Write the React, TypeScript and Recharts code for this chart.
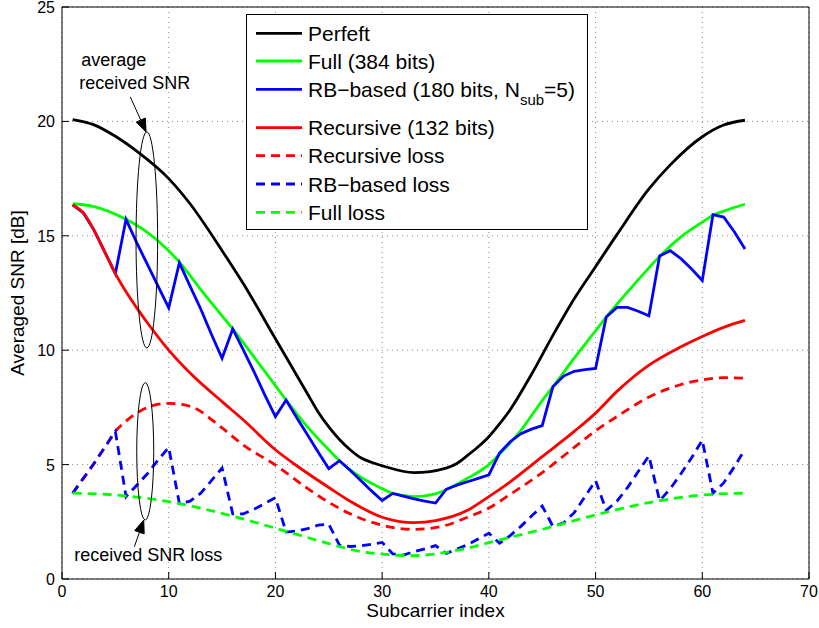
import React from "react";
import {
  CartesianGrid,
  Label,
  Legend,
  Line,
  LineChart,
  ReferenceDot,
  ReferenceLine,
  XAxis,
  YAxis,
} from "recharts";

const FONT = '"Liberation Sans", Arial, Helvetica, sans-serif';

// tick labels
const xTicks = [0, 10, 20, 30, 40, 50, 60, 70];
const yTicks = [0, 5, 10, 15, 20, 25];

// every subcarrier (used by the zig-zag RB series)
const subcarriers = Array.from({ length: 64 }, (_, i) => i + 1);

// smooth curves at a few subcarriers
const perfectIdx = [1, 3, 5, 7, 10, 12, 15, 17, 20, 23, 24, 25, 26, 27, 28, 29, 30, 33, 36, 37, 38, 39, 40, 41, 42, 44, 46, 48, 50, 52, 55, 57, 60, 62, 64];
const perfectSnr = [20.08, 19.85, 19.35, 18.7, 17.5, 16.4, 14.35, 12.9, 10.5, 8.1, 7.3, 6.65, 6.1, 5.65, 5.3, 5.1, 4.95, 4.65, 4.85, 5.05, 5.4, 5.78, 6.22, 6.78, 7.4, 8.95, 10.65, 12.25, 13.65, 15.05, 17.05, 18.1, 19.33, 19.84, 20.05];

const fullIdx = [1, 3, 6, 8, 10, 11, 13, 15, 16, 18, 20, 21, 23, 25, 26, 28, 30, 31, 33, 35, 36, 38, 40, 41, 43, 45, 46, 48, 50, 51, 53, 55, 56, 58, 60, 61, 62, 64];
const fullSnr = [16.4, 16.28, 15.72, 15.15, 14.35, 13.85, 12.65, 11.5, 10.93, 9.7, 8.45, 7.82, 6.65, 5.65, 5.17, 4.45, 3.95, 3.74, 3.6, 3.72, 3.9, 4.4, 5.0, 5.45, 6.5, 7.8, 8.4, 9.65, 10.85, 11.45, 12.55, 13.6, 14.1, 14.95, 15.6, 15.9, 16.08, 16.38];

const recIdx = [1, 2, 3, 4, 5, 6, 7, 8, 10, 12, 15, 17, 20, 22, 25, 27, 30, 33, 35, 38, 40, 42, 45, 48, 50, 52, 55, 58, 60, 62, 64];
const recSnr = [16.35, 16.0, 15.25, 14.3, 13.35, 12.55, 11.85, 11.2, 10.0, 9.0, 7.75, 6.95, 5.65, 4.95, 4.0, 3.4, 2.7, 2.46, 2.55, 3.0, 3.6, 4.25, 5.35, 6.45, 7.25, 8.2, 9.35, 10.15, 10.6, 11.0, 11.3];

const recLossIdx = [1, 2, 3, 4, 5, 6, 7, 8, 10, 12, 15, 17, 20, 23, 25, 27, 30, 33, 36, 38, 40, 42, 45, 48, 50, 52, 55, 58, 60, 62, 64];
const recLossSnr = [3.75, 4.4, 5.05, 5.75, 6.45, 6.9, 7.25, 7.5, 7.68, 7.55, 6.6, 5.85, 4.98, 3.96, 3.35, 2.85, 2.35, 2.17, 2.35, 2.7, 3.1, 3.7, 4.65, 5.75, 6.48, 7.1, 7.95, 8.5, 8.7, 8.8, 8.78];

const fullLossIdx = [1, 5, 10, 15, 20, 22, 25, 28, 30, 33, 35, 38, 40, 45, 50, 55, 60, 64];
const fullLossSnr = [3.75, 3.67, 3.38, 2.87, 2.22, 1.95, 1.55, 1.2, 1.09, 1.02, 1.1, 1.35, 1.59, 2.17, 2.8, 3.34, 3.67, 3.75];

// RB-based (N_sub = 5): one value per subcarrier
const rbSnr = [
  16.35, 16.0, 15.25, 14.3, 13.35,
  15.72, 14.7, 13.75, 12.8, 11.85,
  13.82, 12.8, 11.8, 10.7, 9.65,
  10.93, 10.0, 9.05, 8.05, 7.1,
  7.82, 7.05, 6.3, 5.55, 4.82,
  5.17, 4.75, 4.3, 3.85, 3.43,
  3.74, 3.62, 3.5, 3.4, 3.32,
  3.92, 4.1, 4.25, 4.4, 4.55,
  5.5, 6.0, 6.35, 6.55, 6.7,
  8.4, 8.87, 9.08, 9.15, 9.2,
  11.45, 11.87, 11.87, 11.7, 11.5,
  14.12, 14.35, 14.0, 13.55, 13.05,
  15.92, 15.82, 15.18, 14.42,
];

const rbLossSnr = [
  3.75, 4.4, 5.05, 5.75, 6.45,
  3.6, 4.1, 4.6, 5.2, 5.75,
  3.3, 3.4, 3.75, 4.3, 4.85,
  2.85, 2.85, 3.05, 3.3, 3.55,
  2.05, 2.1, 2.2, 2.35, 2.4,
  1.48, 1.42, 1.45, 1.52, 1.6,
  1.1, 1.05, 1.2, 1.32, 1.46,
  1.12, 1.3, 1.5, 1.75, 2.0,
  1.56, 1.9, 2.3, 2.75, 3.19,
  2.3, 2.45, 2.9, 3.6, 4.3,
  3.0, 3.4, 4.0, 4.7, 5.38,
  3.42, 3.95, 4.6, 5.3, 6.07,
  3.75, 4.2, 4.9, 5.67,
];

const toPoints = (xs: number[], ys: number[]) => xs.map((x, i) => ({ x, y: ys[i] }));

type Series = {
  key: string;
  name: string;
  color: string;
  dashed: boolean;
  curve: "monotone" | "linear";
  data: { x: number; y: number }[];
};

// plotting order = legend order
const series: Series[] = [
  { key: "perfect", name: "Perfeft", color: "#000000", dashed: false, curve: "monotone", data: toPoints(perfectIdx, perfectSnr) },
  { key: "full", name: "Full (384 bits)", color: "#00ff00", dashed: false, curve: "monotone", data: toPoints(fullIdx, fullSnr) },
  { key: "rb", name: "RB−based (180 bits, N_sub=5)", color: "#0000ff", dashed: false, curve: "linear", data: toPoints(subcarriers, rbSnr) },
  { key: "rec", name: "Recursive (132 bits)", color: "#ff0000", dashed: false, curve: "monotone", data: toPoints(recIdx, recSnr) },
  { key: "recLoss", name: "Recursive loss", color: "#ff0000", dashed: true, curve: "monotone", data: toPoints(recLossIdx, recLossSnr) },
  { key: "rbLoss", name: "RB−based loss", color: "#0000ff", dashed: true, curve: "linear", data: toPoints(subcarriers, rbLossSnr) },
  { key: "fullLoss", name: "Full loss", color: "#00ff00", dashed: true, curve: "monotone", data: toPoints(fullLossIdx, fullLossSnr) },
];

const TICK_LEN = 7;
const TICK_FONT = 16;

function BottomTick({ x, y, payload }: any) {
  return (
    <g>
      <line x1={x} x2={x} y1={y} y2={y - TICK_LEN} stroke="#000" />
      <text x={x} y={y + 18} textAnchor="middle" fontSize={TICK_FONT} fontFamily={FONT} fill="#000">
        {payload.value}
      </text>
    </g>
  );
}

function LeftTick({ x, y, payload }: any) {
  return (
    <g>
      <line x1={x} x2={x + TICK_LEN} y1={y} y2={y} stroke="#000" />
      <text x={x - 7} y={y + 6} textAnchor="end" fontSize={TICK_FONT} fontFamily={FONT} fill="#000">
        {payload.value}
      </text>
    </g>
  );
}

function TopTick({ x, y }: any) {
  return <line x1={x} x2={x} y1={y} y2={y + TICK_LEN} stroke="#000" />;
}

function RightTick({ x, y }: any) {
  return <line x1={x} x2={x - TICK_LEN} y1={y} y2={y} stroke="#000" />;
}

function LegendBox() {
  const rows = [19.3, 47, 75.3, 113.7, 141.7, 170, 198.3];
  return (
    <svg width={343} height={217} style={{ display: "block" }}>
      <rect x={0.5} y={0.5} width={341} height={215} fill="#fff" stroke="#000" />
      {series.map((s, i) => {
        const cy = rows[i];
        return (
          <g key={s.key}>
            <line
              x1={10}
              x2={56}
              y1={cy}
              y2={cy}
              stroke={s.color}
              strokeWidth={2.8}
              strokeDasharray={s.dashed ? "9 6" : undefined}
            />
            <text x={62} y={cy + 7.5} fontSize={21} fontFamily={FONT} fill="#000">
              {s.key === "rb" ? (
                <>
                  {"RB−based (180 bits, N"}
                  <tspan fontSize={15} dy={8}>sub</tspan>
                  <tspan dy={-8}>=5)</tspan>
                </>
              ) : (
                s.name
              )}
            </text>
          </g>
        );
      })}
    </svg>
  );
}

function Arrow({ x1, y1, x2, y2 }: any) {
  const dx = x2 - x1;
  const dy = y2 - y1;
  const len = Math.hypot(dx, dy) || 1;
  const ux = dx / len;
  const uy = dy / len;
  const head = 13;
  const half = 5;
  const bx = x2 - ux * head;
  const by = y2 - uy * head;
  const pts = `${x2},${y2} ${bx - uy * half},${by + ux * half} ${bx + uy * half},${by - ux * half}`;
  return (
    <g>
      <line x1={x1} y1={y1} x2={bx} y2={by} stroke="#000" strokeWidth={1} />
      <polygon points={pts} fill="#000" stroke="#000" strokeWidth={1} />
    </g>
  );
}

function note(text: string) {
  return ({ cx, cy }: any) => (
    <text x={cx} y={cy} fontSize={18} fontFamily={FONT} fill="#000">
      {text}
    </text>
  );
}

function ellipse(rx: number, ry: number) {
  return ({ cx, cy }: any) => (
    <ellipse cx={cx} cy={cy} rx={rx} ry={ry} fill="none" stroke="#000" strokeWidth={1} />
  );
}

export default function App() {
  return (
    <div style={{ position: "absolute", left: 0, top: 0, width: 819, height: 628, background: "#fff" }}>
      <LineChart width={819} height={628} margin={{ top: 0, right: 0, bottom: 0, left: 0 }}>
        <CartesianGrid stroke="#8c8c8c" strokeDasharray="1 4" />
        <XAxis
          dataKey="x"
          type="number"
          domain={[0, 70]}
          ticks={xTicks}
          interval={0}
          height={49}
          tickSize={0}
          tickMargin={0}
          tick={<BottomTick />}
          axisLine={{ stroke: "#000" }}
          allowDuplicatedCategory={false}
        >
          <Label
            content={({ viewBox }: any) => (
              <text
                x={viewBox.x + viewBox.width / 2}
                y={viewBox.y + 38}
                textAnchor="middle"
                fontSize={19}
                fontFamily={FONT}
                fill="#000"
              >
                Subcarrier index
              </text>
            )}
          />
        </XAxis>
        <XAxis
          xAxisId="top"
          orientation="top"
          dataKey="x"
          type="number"
          domain={[0, 70]}
          ticks={xTicks}
          interval={0}
          height={7}
          tickSize={0}
          tickMargin={0}
          tick={<TopTick />}
          axisLine={{ stroke: "#000" }}
        />
        <YAxis
          type="number"
          domain={[0, 25]}
          ticks={yTicks}
          interval={0}
          width={62}
          tickSize={0}
          tickMargin={0}
          tick={<LeftTick />}
          axisLine={{ stroke: "#000" }}
        >
          <Label
            content={({ viewBox }: any) => {
              const cx = viewBox.x + 24;
              const cy = viewBox.y + viewBox.height / 2;
              return (
                <text
                  x={cx}
                  y={cy}
                  transform={`rotate(-90 ${cx} ${cy})`}
                  textAnchor="middle"
                  fontSize={19}
                  fontFamily={FONT}
                  fill="#000"
                >
                  Averaged SNR [dB]
                </text>
              );
            }}
          />
        </YAxis>
        <YAxis
          yAxisId="right"
          orientation="right"
          type="number"
          domain={[0, 25]}
          ticks={yTicks}
          interval={0}
          width={10}
          tickSize={0}
          tickMargin={0}
          tick={<RightTick />}
          axisLine={{ stroke: "#000" }}
        />

        {series.map((s) => (
          <Line
            key={s.key}
            data={s.data}
            dataKey="y"
            name={s.name}
            type={s.curve}
            stroke={s.color}
            strokeWidth={2.8}
            strokeDasharray={s.dashed ? "9 6" : undefined}
            dot={false}
            activeDot={false}
            isAnimationActive={false}
          />
        ))}

        <ReferenceDot x={7.95} y={14.82} r={1} ifOverflow="visible" shape={ellipse(10.8, 108)} />
        <ReferenceDot x={7.8} y={5.58} r={1} ifOverflow="visible" shape={ellipse(8.5, 68.7)} />
        <ReferenceLine
          segment={[{ x: 6.4, y: 21.07 }, { x: 7.88, y: 19.54 }]}
          ifOverflow="visible"
          shape={Arrow}
        />
        <ReferenceLine
          segment={[{ x: 6.78, y: 1.41 }, { x: 7.66, y: 2.58 }]}
          ifOverflow="visible"
          shape={Arrow}
        />
        <ReferenceDot x={1.8} y={22.42} r={1} ifOverflow="visible" shape={note("average")} />
        <ReferenceDot x={1.62} y={21.42} r={1} ifOverflow="visible" shape={note("received SNR")} />
        <ReferenceDot x={1.15} y={0.79} r={1} ifOverflow="visible" shape={note("received SNR loss")} />

        <Legend
          layout="vertical"
          align="center"
          verticalAlign="middle"
          wrapperStyle={{ left: 246, top: 14, width: 343, height: 217 }}
          content={() => <LegendBox />}
        />
      </LineChart>
    </div>
  );
}
